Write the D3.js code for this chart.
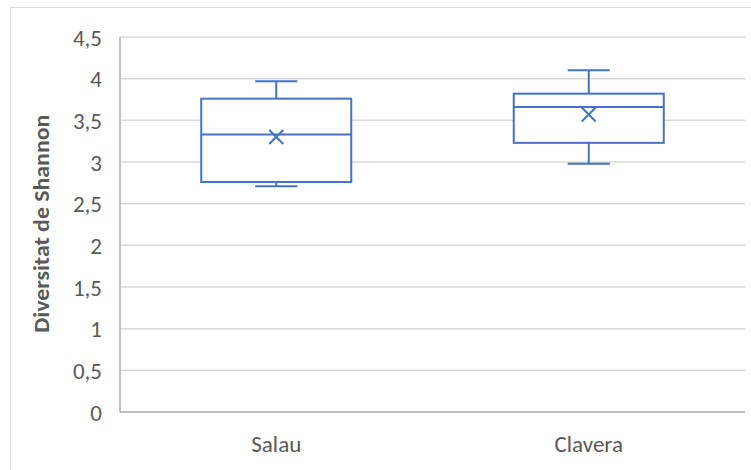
<!DOCTYPE html>
<html>
<head>
<meta charset="utf-8">
<script src="https://cdn.jsdelivr.net/npm/d3@7"></script>
<style>
  html, body { margin: 0; padding: 0; background: #fff; }
  svg { display: block; }
  text { font-family: Carlito, Lato, "Open Sans", sans-serif; fill: #595959; }
</style>
</head>
<body>
<svg id="chart" width="751" height="470"></svg>
<script>
// Data
const categories = ["Salau", "Clavera"];
const minValues    = [2.71, 2.98];
const q1Values     = [2.76, 3.23];
const medianValues = [3.33, 3.66];
const q3Values     = [3.76, 3.82];
const maxValues    = [3.97, 4.10];
const meanValues   = [3.30, 3.57];
const yTicks = [0, 0.5, 1, 1.5, 2, 2.5, 3, 3.5, 4, 4.5];
const yTitle = "Diversitat de Shannon";

const data = categories.map((c, i) => ({
  cat: c, min: minValues[i], q1: q1Values[i], med: medianValues[i],
  q3: q3Values[i], max: maxValues[i], mean: meanValues[i]
}));

const svg = d3.select("#chart");
const W = 751, H = 470;
const margin = { left: 120, right: 6, top: 37, bottom: 58 };
const plotW = W - margin.left - margin.right;
const plotH = H - margin.top - margin.bottom;

// outer chart border
svg.append("rect")
  .attr("x", 10.5).attr("y", 7.5)
  .attr("width", 900).attr("height", 600)
  .attr("fill", "none").attr("stroke", "#d9d9d9").attr("stroke-width", 1);

const g = svg.append("g").attr("transform", `translate(${margin.left},${margin.top})`);

const x = d3.scaleBand().domain(categories).range([0, plotW]).paddingInner(0).paddingOuter(0);
const y = d3.scaleLinear().domain([0, 4.5]).range([plotH, 0]);

// gridlines
g.append("g").selectAll("line").data(yTicks.filter(t => t > 0)).join("line")
  .attr("x1", 0).attr("x2", plotW)
  .attr("y1", d => y(d)).attr("y2", d => y(d))
  .attr("stroke", "#d9d9d9").attr("stroke-width", 1.5);

// y axis (labels only)
const yAxis = d3.axisLeft(y).tickValues(yTicks).tickSize(0).tickPadding(18)
  .tickFormat(d => String(d).replace(".", ","));
const ya = g.append("g").call(yAxis);
ya.select(".domain").remove();
ya.selectAll("text").style("font-size", "23px").attr("fill", "#595959").attr("dy", "0.35em");

// axis lines
g.append("line").attr("x1", 0).attr("x2", 0).attr("y1", y(4.5)).attr("y2", plotH)
  .attr("stroke", "#bfbfbf").attr("stroke-width", 2);
g.append("line").attr("x1", 0).attr("x2", plotW).attr("y1", plotH).attr("y2", plotH)
  .attr("stroke", "#bfbfbf").attr("stroke-width", 2.2);

// x axis labels
const xAxis = d3.axisBottom(x).tickSize(0).tickPadding(24);
const xa = g.append("g").attr("transform", `translate(0,${plotH})`).call(xAxis);
xa.select(".domain").remove();
xa.selectAll("text").style("font-size", "23px").attr("fill", "#595959");

// y title
svg.append("text")
  .attr("transform", `translate(49,${margin.top + y(2.26)}) rotate(-90)`)
  .attr("text-anchor", "middle")
  .attr("textLength", 218).attr("lengthAdjust", "spacingAndGlyphs")
  .style("font-size", "22px").style("font-weight", "bold")
  .text(yTitle);

// boxes
const blue = "#4472C4";
const boxW = x.bandwidth() * 0.48;
const capW = x.bandwidth() * 0.135;
const boxes = g.append("g").selectAll("g").data(data).join("g")
  .attr("transform", d => `translate(${x(d.cat) + x.bandwidth() / 2},0)`);

boxes.append("line").attr("x1", 0).attr("x2", 0)
  .attr("y1", d => y(d.max)).attr("y2", d => y(d.q3))
  .attr("stroke", blue).attr("stroke-width", 2);
boxes.append("line").attr("x1", 0).attr("x2", 0)
  .attr("y1", d => y(d.q1)).attr("y2", d => y(d.min))
  .attr("stroke", blue).attr("stroke-width", 2);
boxes.append("line").attr("x1", -capW / 2).attr("x2", capW / 2)
  .attr("y1", d => y(d.max)).attr("y2", d => y(d.max))
  .attr("stroke", blue).attr("stroke-width", 2);
boxes.append("line").attr("x1", -capW / 2).attr("x2", capW / 2)
  .attr("y1", d => y(d.min)).attr("y2", d => y(d.min))
  .attr("stroke", blue).attr("stroke-width", 2);
boxes.append("rect")
  .attr("x", -boxW / 2).attr("width", boxW)
  .attr("y", d => y(d.q3)).attr("height", d => y(d.q1) - y(d.q3))
  .attr("fill", "#fff").attr("stroke", blue).attr("stroke-width", 2);
boxes.append("line").attr("x1", -boxW / 2).attr("x2", boxW / 2)
  .attr("y1", d => y(d.med)).attr("y2", d => y(d.med))
  .attr("stroke", blue).attr("stroke-width", 2);
// mean X marker
const s = 7;
boxes.append("path")
  .attr("d", d => `M${-s},${y(d.mean) - s}L${s},${y(d.mean) + s}M${-s},${y(d.mean) + s}L${s},${y(d.mean) - s}`)
  .attr("stroke", blue).attr("stroke-width", 2).attr("fill", "none");
</script>
</body>
</html>
